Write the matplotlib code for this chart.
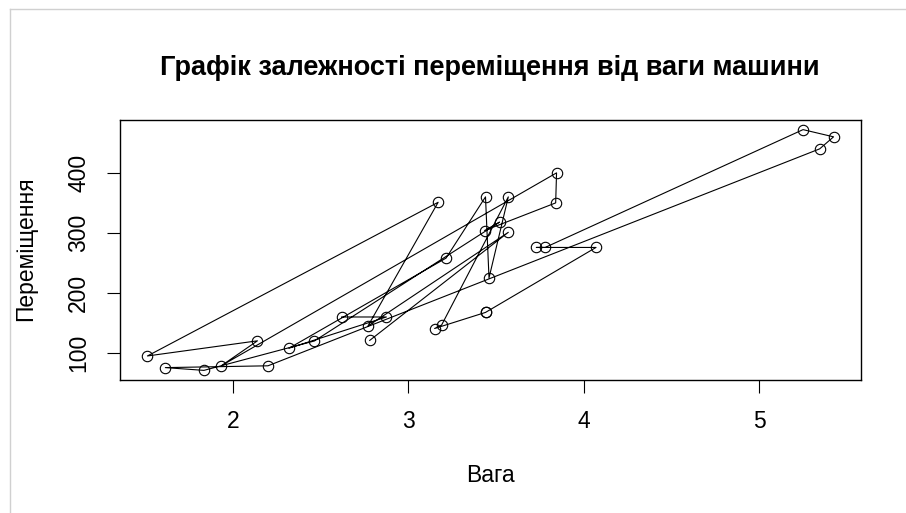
import matplotlib
matplotlib.use("Agg")
import matplotlib.pyplot as plt
from matplotlib.lines import Line2D

# mtcars: weight (1000 lbs) and displacement, in row order
wt = [2.620, 2.875, 2.320, 3.215, 3.440, 3.460, 3.570, 3.190, 3.150, 3.440,
      3.440, 4.070, 3.730, 3.780, 5.250, 5.424, 5.345, 2.200, 1.615, 1.835,
      2.465, 3.520, 3.435, 3.840, 3.845, 1.935, 2.140, 1.513, 3.170, 2.770,
      3.570, 2.780]
disp = [160.0, 160.0, 108.0, 258.0, 360.0, 225.0, 360.0, 146.7, 140.8, 167.6,
        167.6, 275.8, 275.8, 275.8, 472.0, 460.0, 440.0, 78.7, 75.7, 71.1,
        120.1, 318.0, 304.0, 350.0, 400.0, 79.0, 120.3, 95.1, 351.0, 145.0,
        301.0, 121.0]
x_ticks = [2, 3, 4, 5]
y_ticks = [100, 200, 300, 400]
title = "Графік залежності переміщення від ваги машини"
xlabel = "Вага"
ylabel = "Переміщення"

plt.rcParams['font.family'] = ['Liberation Sans', 'DejaVu Sans']

W, H = 906, 513
fig = plt.figure(figsize=(W / 100, H / 100), dpi=100)
fig.patch.set_facecolor('white')

L, R, T, B = 120, 861, 120, 380
ax = fig.add_axes([L / W, 1 - B / H, (R - L) / W, (B - T) / H])

ax.plot(wt, disp, color='black', lw=0.8, marker='o', markersize=7.5,
        markerfacecolor='none', markeredgecolor='black', markeredgewidth=0.8)

xr = max(wt) - min(wt)
yr = max(disp) - min(disp)
ax.set_xlim(min(wt) - 0.04 * xr, max(wt) + 0.04 * xr)
ax.set_ylim(min(disp) - 0.04 * yr, max(disp) + 0.04 * yr)
ax.set_xticks(x_ticks)
ax.set_xticklabels([str(v) for v in x_ticks])
ax.set_yticks(y_ticks)
ax.set_yticklabels([str(v) for v in y_ticks], rotation=90, va='center')

for s in ax.spines.values():
    s.set_linewidth(1.0)
    s.set_color('black')
ax.tick_params(direction='out', length=9.4, width=0.8, labelsize=16.5, colors='black')
ax.tick_params(axis='x', pad=12.5)
ax.tick_params(axis='y', pad=12)

fig.text(490 / W, 1 - 68 / H, title, ha='center', va='center',
         fontsize=19.5, fontweight='bold')
fig.text(490 / W, 1 - 476 / H, xlabel, ha='center', va='center', fontsize=16.5)
fig.text(26 / W, 1 - 249 / H, ylabel, ha='center', va='center', fontsize=16.5,
         rotation=90)

# light screenshot frame
fig.add_artist(Line2D([10 / W, 10 / W], [0, 1 - 9 / H], transform=fig.transFigure,
                      color='#d0d0d0', lw=1))
fig.add_artist(Line2D([10 / W, 1], [1 - 9 / H, 1 - 9 / H], transform=fig.transFigure,
                      color='#d0d0d0', lw=1))

fig.savefig('out.png', dpi=100)
